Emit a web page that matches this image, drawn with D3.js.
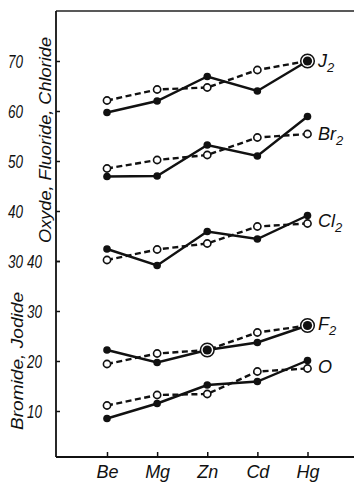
<!DOCTYPE html>
<html>
<head>
<meta charset="utf-8">
<script src="https://cdn.jsdelivr.net/npm/d3@7"></script>
<style>
  html, body { margin: 0; padding: 0; background: #fff; }
  svg { display: block; }
  text { font-family: "Liberation Sans", "DejaVu Sans", sans-serif; font-style: italic; fill: #111; }
</style>
</head>
<body>
<svg id="chart" width="354" height="485"></svg>
<script>
// ---- data ----
const elements = ["Be", "Mg", "Zn", "Cd", "Hg"];
const upperTicks = [30, 40, 50, 60, 70];   // Oxyde, Fluoride, Chloride scale labels
const lowerTicks = [10, 20, 30, 40];       // Bromide, Jodide scale labels

// series read on the upper scale
const J2_solid  = [59.7, 62.0, 66.9, 64.0, 70.0];
const J2_open   = [62.1, 64.3, 64.7, 68.2, 70.0];
const Br2_solid = [46.9, 47.0, 53.2, 51.0, 58.9];
const Br2_open  = [48.5, 50.2, 51.2, 54.7, 55.4];
const Cl2_solid = [32.4, 29.1, 35.9, 34.4, 39.1];
const Cl2_open  = [30.2, 32.3, 33.5, 36.9, 37.5];
// series read on the lower scale
const F2_solid  = [22.2, 19.7, 22.2, 23.7, 27.1];
const F2_open   = [19.4, 21.5, 22.2, 25.7, 27.1];
const O_solid   = [8.5, 11.5, 15.2, 15.9, 20.1];
const O_open    = [11.1, 13.2, 13.4, 17.9, 18.5];

const seriesLabels = ["J", "Br", "Cl", "F", "O"];

// ---- layout ----
const svg = d3.select("#chart");
const axisX = 56, topY = 11, bottomY = 457, rightX = 354;

const x = d3.scalePoint().domain(elements).range([107, 307.5]);
const yUpper = d3.scaleLinear().domain([30, 70]).range([261, 61]);
const yLower = d3.scaleLinear().domain([10, 40]).range([411, 261]);

// frame
svg.append("line").attr("x1", axisX).attr("x2", rightX).attr("y1", topY).attr("y2", topY)
  .attr("stroke", "#222").attr("stroke-width", 1.3);
svg.append("line").attr("x1", axisX).attr("x2", rightX).attr("y1", bottomY).attr("y2", bottomY)
  .attr("stroke", "#111").attr("stroke-width", 1.8);
svg.append("line").attr("x1", axisX).attr("x2", axisX).attr("y1", topY).attr("y2", bottomY)
  .attr("stroke", "#111").attr("stroke-width", 1.8);

// x axis
const gx = svg.append("g").attr("transform", `translate(0,${bottomY})`)
  .call(d3.axisBottom(x).tickSize(-5).tickPadding(8));
gx.select(".domain").remove();
gx.selectAll(".tick line").attr("stroke", "#111").attr("stroke-width", 1.5);
gx.selectAll(".tick text").style("font-size", "18px").style("font-family", "'Liberation Sans', sans-serif")
  .style("font-style", "italic").attr("fill", "#111");

// left axes
function styleY(g) {
  g.select(".domain").remove();
  g.selectAll(".tick line").attr("stroke", "#111").attr("stroke-width", 1.5);
  g.selectAll(".tick text").style("font-size", "19px").style("font-family", "'Liberation Sans', sans-serif")
    .style("font-style", "italic").attr("fill", "#111")
    .attr("textLength", 15).attr("lengthAdjust", "spacingAndGlyphs");
}
const gu = svg.append("g").attr("transform", `translate(${axisX},0)`)
  .call(d3.axisLeft(yUpper).tickValues(upperTicks).tickSize(-4).tickPadding(33).tickFormat(d3.format("d")));
styleY(gu);
const gl = svg.append("g").attr("transform", `translate(${axisX},0)`)
  .call(d3.axisLeft(yLower).tickValues(lowerTicks).tickSize(-4).tickPadding(14).tickFormat(d3.format("d")));
styleY(gl);

// axis titles
svg.append("text").attr("transform", `translate(51,140) rotate(-90)`)
  .attr("text-anchor", "middle").style("font-size", "17px")
  .attr("textLength", 206).attr("lengthAdjust", "spacingAndGlyphs")
  .text("Oxyde, Fluoride, Chloride");
svg.append("text").attr("transform", `translate(23,361) rotate(-90)`)
  .attr("text-anchor", "middle").style("font-size", "17px")
  .attr("textLength", 138).attr("lengthAdjust", "spacingAndGlyphs")
  .text("Bromide, Jodide");

// series
const groups = [
  {solid: J2_solid, open: J2_open, y: yUpper, label: seriesLabels[0], sub: true, ly: 67},
  {solid: Br2_solid, open: Br2_open, y: yUpper, label: seriesLabels[1], sub: true, ly: 140},
  {solid: Cl2_solid, open: Cl2_open, y: yUpper, label: seriesLabels[2], sub: true, ly: 227},
  {solid: F2_solid, open: F2_open, y: yLower, label: seriesLabels[3], sub: true, ly: 330},
  {solid: O_solid, open: O_open, y: yLower, label: seriesLabels[4], sub: false, ly: 373}
];

groups.forEach(g => {
  const line = d3.line().x((d, i) => x(elements[i])).y(d => g.y(d));
  svg.append("path").attr("d", line(g.open)).attr("fill", "none")
    .attr("stroke", "#111").attr("stroke-width", 2.4).attr("stroke-dasharray", "6,3.5");
  svg.append("path").attr("d", line(g.solid)).attr("fill", "none")
    .attr("stroke", "#111").attr("stroke-width", 2.4);
  elements.forEach((e, i) => {
    const same = Math.abs(g.solid[i] - g.open[i]) < 0.05;
    if (same) {
      svg.append("circle").attr("cx", x(e)).attr("cy", g.y(g.open[i])).attr("r", 6.8)
        .attr("fill", "#fff").attr("stroke", "#111").attr("stroke-width", 1.5);
      svg.append("circle").attr("cx", x(e)).attr("cy", g.y(g.solid[i])).attr("r", 4.6).attr("fill", "#111");
    } else {
      svg.append("circle").attr("cx", x(e)).attr("cy", g.y(g.open[i])).attr("r", 3.6)
        .attr("fill", "#fff").attr("stroke", "#111").attr("stroke-width", 1.6);
      svg.append("circle").attr("cx", x(e)).attr("cy", g.y(g.solid[i])).attr("r", 3.8).attr("fill", "#111");
    }
  });
  const t = svg.append("text").attr("x", 318).attr("y", g.ly).style("font-size", "18px");
  t.append("tspan").text(g.label);
  if (g.sub) t.append("tspan").attr("dy", 5).style("font-size", "13px").text("2");
});
</script>
</body>
</html>
